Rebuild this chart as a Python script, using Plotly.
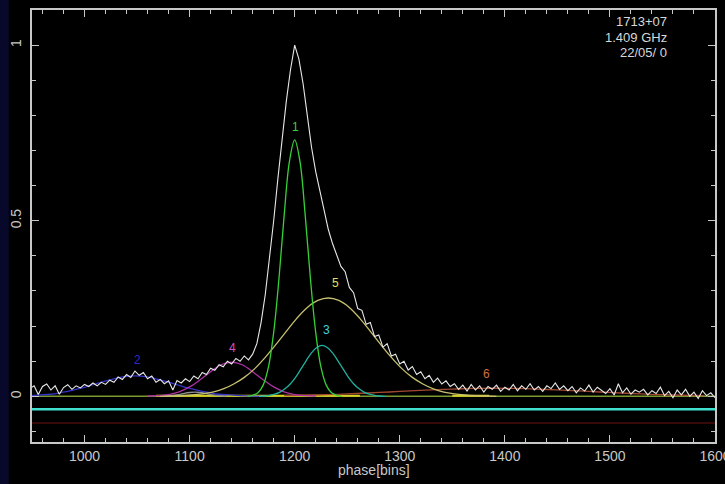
import plotly.graph_objects as go

# ---- measured pulse profile (normalised flux vs phase bin) ----
phase_bins = list(range(948, 1601, 4))
profile = [
    0.022, 0.030, 0.005, 0.028, 0.035, 0.018, 0.030, 0.006, 0.025, 0.033,
    0.020, 0.030, 0.024, 0.034, 0.028, 0.038, 0.030, 0.040, 0.034, 0.046,
    0.040, 0.055, 0.048, 0.062, 0.054, 0.072, 0.060, 0.068, 0.050, 0.058,
    0.040, 0.048, 0.036, 0.044, 0.018, 0.045, 0.038, 0.050, 0.042, 0.058,
    0.050, 0.068, 0.062, 0.080, 0.074, 0.090, 0.084, 0.100, 0.092, 0.108,
    0.100, 0.115, 0.104, 0.120, 0.150, 0.210, 0.290, 0.390, 0.500, 0.620,
    0.740, 0.840, 0.930, 1.000, 0.960, 0.890, 0.800, 0.710, 0.640, 0.585,
    0.530, 0.475, 0.435, 0.405, 0.370, 0.355, 0.310, 0.295, 0.250, 0.245,
    0.205, 0.210, 0.170, 0.175, 0.140, 0.150, 0.115, 0.120, 0.092, 0.100,
    0.075, 0.085, 0.062, 0.070, 0.050, 0.060, 0.040, 0.052, 0.035, 0.044,
    0.028, 0.036, 0.020, 0.032, 0.015, 0.034, 0.018, 0.030, 0.012, 0.028,
    0.020, 0.032, 0.014, 0.026, 0.018, 0.034, 0.016, 0.030, 0.020, 0.036,
    0.018, 0.028, 0.014, 0.030, 0.022, 0.038, 0.020, 0.030, 0.016, 0.028,
    0.010, 0.024, 0.015, 0.032, 0.012, 0.026, 0.018, 0.008, 0.022, 0.004,
    0.036, 0.010, 0.024, 0.006, 0.018, 0.012, 0.020, 0.004, 0.016, 0.008,
    0.026, 0.002, 0.014, -0.004, 0.018, 0.004, 0.020, 0.000, 0.012, -0.006,
    0.016, 0.002, 0.010, -0.004,
]

# ---- fitted components ----
c1_bins = list(range(1155, 1246, 5))
c1_vals = [0.000, 0.003, 0.010, 0.032, 0.083, 0.182, 0.334, 0.516, 0.669, 0.730,
           0.669, 0.516, 0.334, 0.182, 0.083, 0.032, 0.010, 0.003, 0.000]

c2_bins = list(range(928, 1169, 10))
c2_vals = [0.000, 0.001, 0.002, 0.004, 0.006, 0.011, 0.017, 0.024, 0.033, 0.042,
           0.050, 0.056, 0.058, 0.056, 0.050, 0.042, 0.033, 0.024, 0.017, 0.011,
           0.006, 0.004, 0.002, 0.001, 0.000]

c3_bins = list(range(1166, 1287, 5))
c3_vals = [0.000, 0.001, 0.003, 0.006, 0.012, 0.022, 0.036, 0.055, 0.078, 0.102,
           0.124, 0.139, 0.145, 0.139, 0.124, 0.102, 0.078, 0.055, 0.036, 0.022,
           0.012, 0.006, 0.003, 0.001, 0.000]

c4_bins = list(range(1060, 1221, 10))
c4_vals = [0.001, 0.002, 0.005, 0.013, 0.027, 0.047, 0.070, 0.090, 0.097, 0.090,
           0.070, 0.047, 0.027, 0.013, 0.005, 0.002, 0.001]

c5_bins = list(range(1072, 1393, 10))
c5_vals = [0.000, 0.001, 0.002, 0.004, 0.007, 0.012, 0.021, 0.035, 0.054, 0.079,
           0.111, 0.147, 0.185, 0.222, 0.253, 0.273, 0.280, 0.273, 0.253, 0.222,
           0.185, 0.147, 0.111, 0.079, 0.054, 0.035, 0.021, 0.012, 0.007, 0.004,
           0.002, 0.001, 0.000]

c6_bins = list(range(1190, 1591, 20))
c6_vals = [0.002, 0.0031, 0.0047, 0.0069, 0.0095, 0.0124, 0.0155, 0.0184, 0.0208, 0.0224,
           0.023, 0.0224, 0.0208, 0.0184, 0.0155, 0.0124, 0.0095, 0.0069, 0.0047, 0.0031,
           0.002]

c7_bins = list(range(1075, 1136, 5))
c7_vals = [0.0004, 0.0011, 0.0027, 0.005, 0.0085, 0.011, 0.012, 0.011, 0.0085, 0.005,
           0.0027, 0.0011, 0.0004]

# component number labels: (text, bin, height)
comp_labels = ["1", "2", "3", "4", "5", "6"]
comp_label_bins = [1201, 1050, 1230, 1141, 1239, 1383]
comp_label_vals = [0.766, 0.103, 0.188, 0.137, 0.322, 0.063]

# reference levels
baseline_level = 0.0
cyan_level = -0.037
red_level = -0.076
span_bins = [950, 1600]
yellow_spans = [[1068, 1262], [1350, 1385]]

info_lines = ["1713+07", "1.409 GHz", "22/05/ 0"]

# ---- styling ----
axis_col = "#c8c8c8"
comp_colors = {
    "1": "#38d038", "2": "#3434c8", "3": "#20b0a0",
    "4": "#b030a8", "5": "#c8c070", "6": "#a04830", "7": "#909090",
}
label_colors = ["#40d040", "#2a2acc", "#40d0e0", "#d050c8", "#e0e060", "#d07040"]

fig = go.Figure()

# baseline, offset markers
fig.add_trace(go.Scatter(x=span_bins, y=[baseline_level] * 2, mode="lines",
                         line=dict(color="#7a9a30", width=1.5), hoverinfo="skip"))
for seg in yellow_spans:
    fig.add_trace(go.Scatter(x=seg, y=[baseline_level + 0.002] * 2, mode="lines",
                             line=dict(color="#d8d020", width=2), hoverinfo="skip"))
fig.add_trace(go.Scatter(x=span_bins, y=[cyan_level] * 2, mode="lines",
                         line=dict(color="#40e0d0", width=2.5), hoverinfo="skip"))
fig.add_trace(go.Scatter(x=span_bins, y=[red_level] * 2, mode="lines",
                         line=dict(color="#4a0c0c", width=1.5), hoverinfo="skip"))

comps = [
    ("7", c7_bins, c7_vals), ("6", c6_bins, c6_vals), ("2", c2_bins, c2_vals),
    ("4", c4_bins, c4_vals), ("5", c5_bins, c5_vals), ("3", c3_bins, c3_vals),
    ("1", c1_bins, c1_vals),
]
for key, xb, yv in comps:
    fig.add_trace(go.Scatter(x=xb, y=yv, mode="lines",
                             line=dict(color=comp_colors[key], width=1.3, shape="spline"),
                             hoverinfo="skip"))

# measured profile on top
fig.add_trace(go.Scatter(x=phase_bins, y=profile, mode="lines",
                         line=dict(color="#e8e8e8", width=1.1), hoverinfo="skip"))

for t, xb, yv, c in zip(comp_labels, comp_label_bins, comp_label_vals, label_colors):
    fig.add_annotation(x=xb, y=yv, xref="x", yref="y", text=t, showarrow=False,
                       font=dict(family="Liberation Sans", size=12, color=c))

# source / frequency / date block, upper right (one line per annotation)
for i, line in enumerate(info_lines):
    fig.add_annotation(x=0.933, y=0.973 - i * 0.036, xref="paper", yref="paper",
                       xanchor="right", yanchor="middle", align="right",
                       text=line, showarrow=False,
                       font=dict(family="Liberation Sans", size=13, color="#d8d8d8"))

fig.add_annotation(x=0.5, y=-0.065, xref="paper", yref="paper",
                   xanchor="center", yanchor="middle",
                   text="phase[bins]", showarrow=False,
                   font=dict(family="Liberation Sans", size=14, color=axis_col))

# dark strip along left edge of the page
fig.add_shape(type="rect", xref="paper", yref="paper",
              x0=-0.047, x1=-0.034, y0=-0.1, y1=1.03,
              fillcolor="#08082a", line=dict(width=0), layer="below")

axis_common = dict(
    showgrid=False, zeroline=False, showline=True, linecolor=axis_col, linewidth=1.5,
    mirror="ticks", ticks="inside", tickcolor=axis_col, tickwidth=1.3, ticklen=7,
    tickfont=dict(family="Liberation Sans", size=14, color=axis_col),
    automargin=False,
)

fig.update_xaxes(range=span_bins, dtick=100, tick0=1000,
                 minor=dict(dtick=20, ticks="inside", ticklen=4, tickcolor=axis_col),
                 ticklabeloverflow="allow", **axis_common)
fig.update_yaxes(range=[-0.13, 1.10], dtick=0.5, tick0=0, tickangle=-90,
                 ticklabelstandoff=4,
                 minor=dict(dtick=0.1, ticks="inside", ticklen=4, tickcolor=axis_col),
                 **axis_common)

fig.update_layout(
    width=725, height=484, showlegend=False,
    paper_bgcolor="#000000", plot_bgcolor="#000000",
    margin=dict(l=32, r=10, t=10, b=42),
)

fig.write_html("out.html")
